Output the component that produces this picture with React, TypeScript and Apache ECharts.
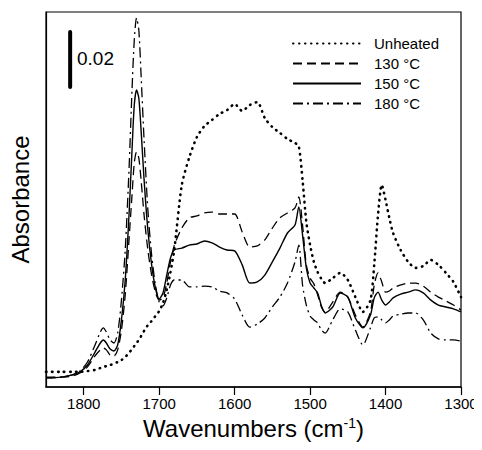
import React, { useEffect, useRef } from "react";
import * as echarts from "echarts";

// Wavenumber grid (cm^-1)
const wavenumbers = [
  1850, 1830, 1815, 1805, 1795, 1785, 1778, 1774, 1770, 1765, 1760, 1755, 1750, 1745, 1740, 1736, 1733, 1730,
  1727, 1724, 1720, 1715, 1710, 1705, 1700, 1695, 1690, 1685, 1680, 1670, 1660, 1650, 1640, 1630, 1620, 1610,
  1600, 1590, 1580, 1570, 1560, 1550, 1540, 1530, 1520, 1515, 1510, 1505, 1500, 1495, 1490, 1485, 1480, 1470,
  1460, 1450, 1440, 1430, 1420, 1415, 1410, 1405, 1400, 1395, 1390, 1380, 1370, 1360, 1350, 1340, 1330, 1320,
  1310, 1300,
];

// Absorbance values in milli-absorbance units (mA)
const unheated = [
  5.5, 5.5, 5.5, 5.5, 5.8, 6.2, 6.9, 7.3, 7.6, 8.0, 8.4, 9.1, 9.8, 10.9, 12.4, 13.8, 14.9, 16.0,
  17.1, 18.5, 20.4, 22.5, 24.0, 25.8, 27.6, 30.5, 35.3, 41.8, 49.8, 73.5, 83.6, 90.9, 94.9, 97.1, 99.3, 100.7,
  102.9, 100.4, 102.5, 103.6, 97.8, 94.5, 92.4, 90.2, 88.7, 87.6, 75.3, 60.0, 51.6, 45.5, 41.8, 39.3, 37.8, 39.6,
  41.5, 38.9, 32.7, 27.3, 31.6, 44.4, 62.5, 73.5, 68.0, 61.5, 56.0, 49.8, 45.5, 43.3, 44.0, 46.2, 44.4, 41.5,
  38.2, 32.7,
];
const heated130 = [
  3.6, 3.6, 4.0, 5.1, 7.3, 11.3, 13.5, 14.2, 13.5, 11.6, 11.3, 13.5, 20.7, 33.5, 53.5, 69.8, 81.5, 85.5,
  83.3, 75.3, 62.5, 49.8, 40.7, 34.5, 31.6, 32.4, 37.8, 45.5, 51.5, 57.8, 61.5, 62.2, 63.3, 63.6, 62.9, 62.9,
  62.9, 56.4, 50.9, 51.3, 53.5, 57.8, 61.5, 63.3, 65.1, 69.1, 58.9, 44.4, 39.6, 37.5, 33.5, 29.1, 27.3, 30.9,
  34.5, 32.7, 26.2, 21.8, 27.3, 37.1, 41.5, 38.2, 34.5, 34.9, 36.0, 37.1, 37.8, 37.8, 36.7, 34.5, 32.7, 31.3,
  29.8, 28.0,
];
const heated150 = [
  3.3, 3.6, 4.4, 5.5, 8.0, 12.7, 16.0, 17.1, 16.0, 13.8, 13.1, 15.3, 24.4, 38.9, 62.5, 86.2, 102.5, 108.0,
  105.1, 93.5, 75.3, 57.1, 44.4, 36.0, 32.0, 34.2, 40.7, 46.9, 49.8, 50.5, 51.6, 52.0, 53.1, 52.4, 50.9, 49.8,
  49.5, 44.4, 37.8, 38.2, 40.7, 45.5, 50.5, 56.0, 58.9, 65.5, 55.3, 43.3, 37.8, 36.0, 34.2, 29.5, 26.9, 29.1,
  34.2, 32.7, 25.1, 21.5, 26.2, 32.4, 34.5, 31.6, 29.8, 30.9, 32.4, 33.8, 34.5, 35.3, 34.2, 31.6, 29.8, 29.1,
  28.4, 27.3,
];
const heated180 = [
  3.3, 3.6, 4.4, 5.8, 9.1, 15.3, 20.0, 21.5, 20.0, 17.1, 16.0, 19.6, 31.6, 49.8, 78.9, 108.0, 126.2, 134.2,
  129.8, 113.5, 89.8, 64.4, 48.0, 37.1, 30.9, 29.5, 32.4, 37.1, 38.9, 38.9, 36.4, 36.4, 36.7, 36.4, 34.9, 34.2,
  32.0, 26.2, 21.8, 22.9, 25.1, 29.1, 32.7, 37.8, 45.5, 51.6, 37.1, 29.8, 25.8, 24.4, 23.3, 20.7, 19.6, 24.4,
  28.4, 27.3, 20.7, 15.3, 21.5, 25.1, 25.5, 24.4, 23.3, 24.4, 25.8, 26.5, 26.9, 26.9, 24.4, 19.6, 17.5, 17.1,
  17.1, 16.7,
];

const seriesNames = ["Unheated", "130 °C", "150 °C", "180 °C"];
const tickValues = [1800, 1700, 1600, 1500, 1400, 1300];
// Scale bar: 0.02 absorbance = 20 mA
const scaleBarWavenumber = [1818, 1818];
const scaleBarValues = [109.1, 129.1];

const FONT = "'Liberation Sans', Arial, Helvetica, sans-serif";

function pairs(ys: number[]) {
  return wavenumbers.map((w, i) => [w, ys[i]]);
}

export default function App() {
  const ref = useRef<HTMLDivElement>(null);
  useEffect(() => {
    if (!ref.current) return;
    const chart = echarts.init(ref.current, null, { renderer: "svg" });
    const lineCommon = {
      type: "line",
      showSymbol: false,
      symbol: "none",
      smooth: 0.25,
      z: 3,
      itemStyle: { color: "#000", opacity: 0 },
    };
    chart.setOption({
      animation: false,
      backgroundColor: "#fff",
      textStyle: { fontFamily: FONT },
      grid: { left: 45, right: 21, top: 12, bottom: 63, show: true, borderColor: "#000", borderWidth: 1.2, backgroundColor: "transparent" },
      legend: {
        data: seriesNames,
        orient: "vertical",
        left: 292,
        top: 36,
        padding: 0,
        itemWidth: 68,
        itemHeight: 14,
        itemGap: 5,
        itemStyle: { opacity: 0 },
        textStyle: { fontSize: 15, color: "#000", fontFamily: FONT, padding: [0, 0, 0, 8] },
      },
      xAxis: {
        type: "value",
        min: 1300,
        max: 1850,
        interval: 100,
        inverse: true,
        axisLine: { show: true, lineStyle: { color: "#000", width: 1.5 } },
        axisTick: { show: true, inside: false, length: 8, lineStyle: { color: "#000", width: 1.2 }, customValues: tickValues },
        axisLabel: { customValues: tickValues, color: "#000", fontSize: 15, margin: 9, fontFamily: FONT, formatter: (v: number) => String(v) },
        splitLine: { show: false },
        name: "Wavenumbers (cm{sup|-1})",
        nameLocation: "middle",
        nameGap: 26,
        nameTextStyle: {
          fontSize: 24,
          color: "#000",
          fontFamily: FONT,
          rich: { sup: { fontSize: 14, fontFamily: FONT, color: "#000", verticalAlign: "bottom", padding: [0, 0, 12, 0] } },
        },
      },
      yAxis: {
        type: "value",
        min: 0,
        max: 136.36,
        axisLine: { show: true, lineStyle: { color: "#000", width: 1.2 } },
        axisTick: { show: false },
        axisLabel: { show: false },
        splitLine: { show: false },
        name: "Absorbance",
        nameLocation: "middle",
        nameGap: 14,
        nameTextStyle: { fontSize: 24, color: "#000", fontFamily: FONT },
      },
      graphic: [
        { type: "text", left: 77, top: 49, style: { text: "0.02", fontSize: 19, fill: "#000", fontFamily: FONT } },
      ],
      series: [
        { ...lineCommon, name: seriesNames[0], data: pairs(unheated), lineStyle: { color: "#000", width: 2.6, type: [0.5, 5.5], cap: "round" } },
        { ...lineCommon, name: seriesNames[1], data: pairs(heated130), lineStyle: { color: "#000", width: 1.3, type: [9, 5] } },
        { ...lineCommon, name: seriesNames[2], data: pairs(heated150), lineStyle: { color: "#000", width: 1.4, type: "solid" } },
        { ...lineCommon, name: seriesNames[3], data: pairs(heated180), lineStyle: { color: "#000", width: 1.3, type: [10, 4, 2, 4] } },
        {
          type: "line",
          name: "scale",
          symbol: "none",
          data: scaleBarWavenumber.map((w, i) => [w, scaleBarValues[i]]),
          lineStyle: { color: "#000", width: 4, cap: "round" },
          z: 4,
        },
      ],
    });
    return () => chart.dispose();
  }, []);
  return <div ref={ref} style={{ width: 482, height: 450, margin: -8 }} />;
}
